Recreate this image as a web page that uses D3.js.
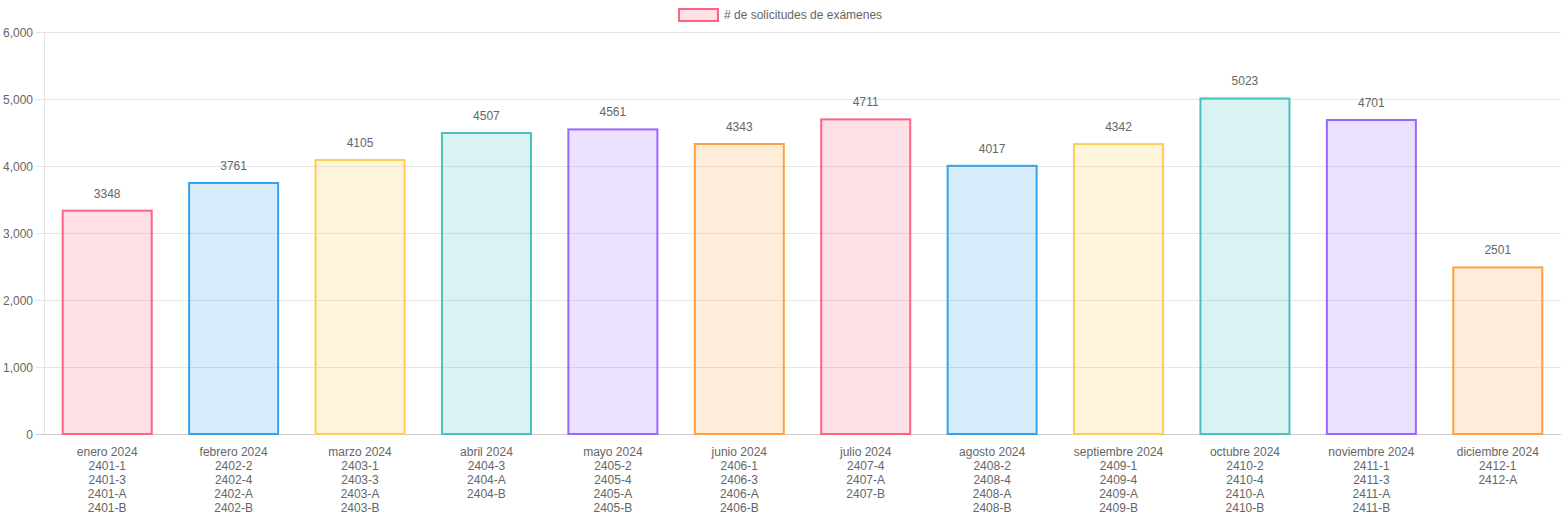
<!DOCTYPE html>
<html><head><meta charset="utf-8">
<script src="https://cdn.jsdelivr.net/npm/d3@7"></script>
<style>
html,body{margin:0;padding:0;background:#fff;}
svg{display:block;font-family:"Liberation Sans",Arial,sans-serif;}
</style></head>
<body><svg id="c" width="1562" height="520"></svg>
<script>
const months = ["enero 2024","febrero 2024","marzo 2024","abril 2024","mayo 2024","junio 2024","julio 2024","agosto 2024","septiembre 2024","octubre 2024","noviembre 2024","diciembre 2024"];
const codes = [
  ["2401-1","2401-3","2401-A","2401-B"],
  ["2402-2","2402-4","2402-A","2402-B"],
  ["2403-1","2403-3","2403-A","2403-B"],
  ["2404-3","2404-A","2404-B"],
  ["2405-2","2405-4","2405-A","2405-B"],
  ["2406-1","2406-3","2406-A","2406-B"],
  ["2407-4","2407-A","2407-B"],
  ["2408-2","2408-4","2408-A","2408-B"],
  ["2409-1","2409-4","2409-A","2409-B"],
  ["2410-2","2410-4","2410-A","2410-B"],
  ["2411-1","2411-3","2411-A","2411-B"],
  ["2412-1","2412-A"]
];
const values = [3348,3761,4105,4507,4561,4343,4711,4017,4342,5023,4701,2501];
const yTicks = [0,1000,2000,3000,4000,5000,6000];
const palette = [[255,99,132],[54,162,235],[255,205,86],[75,192,192],[153,102,255],[255,159,64]];
const legendLabel = "# de solicitudes de exámenes";

(function(){
const svg = d3.select("#c");
const pL = 44, pR = 1561, pT = 32, pB = 434;
const x = d3.scaleBand().domain(months).range([pL, pR]).paddingInner(0).paddingOuter(0);
const y = d3.scaleLinear().domain([0,6000]).range([pB, pT]);
const fmt = d3.format(",");
const rgb = (c,a) => `rgba(${c[0]},${c[1]},${c[2]},${a})`;

const yAxis = d3.axisLeft(y).tickValues(yTicks).tickFormat(fmt).tickSize(8).tickPadding(3);
const gy = svg.append("g").attr("transform",`translate(${pL},0)`).call(yAxis);
gy.select(".domain").attr("stroke","#e5e5e5");
gy.selectAll(".tick line").attr("stroke","#e5e5e5").attr("x2", pR-pL).attr("x1",-8);
gy.selectAll(".tick text").attr("fill","#666").style("font-size","12px").attr("font-family","Liberation Sans, Arial, sans-serif").attr("dy","0.35em");
gy.select(".tick:first-of-type line").attr("stroke","#ccc");

const bw = x.bandwidth()*0.8*0.9;
const g = svg.append("g");
values.forEach((v,i)=>{
  const c = palette[i % palette.length];
  const cx = x(months[i]) + x.bandwidth()/2;
  g.append("rect").attr("x", cx - bw/2 + 1).attr("y", y(v)+1).attr("width", bw-2).attr("height", y(0)-y(v)-1)
    .attr("fill", rgb(c,0.2)).attr("stroke", rgb(c,1)).attr("stroke-width",2);
  g.append("text").attr("x",cx).attr("y",y(v)-12).attr("text-anchor","middle").attr("fill","#666").style("font-size","12px").text(v);
});

const gx = svg.append("g");
months.forEach((m,i)=>{
  const cx = x(m) + x.bandwidth()/2;
  const lines = [m].concat(codes[i]);
  const t = gx.append("text").attr("text-anchor","middle").attr("fill","#666").style("font-size","12px");
  lines.forEach((l,j)=>{
    t.append("tspan").attr("x",cx).attr("y",456 + j*14).text(l);
  });
});

const lg = svg.append("g");
lg.append("rect").attr("x",679).attr("y",9).attr("width",39).attr("height",12)
  .attr("fill",rgb(palette[0],0.2)).attr("stroke",rgb(palette[0],1)).attr("stroke-width",2);
lg.append("text").attr("x",724).attr("y",19).attr("fill","#666").style("font-size","12px").text(legendLabel);
})();
</script></body></html>
